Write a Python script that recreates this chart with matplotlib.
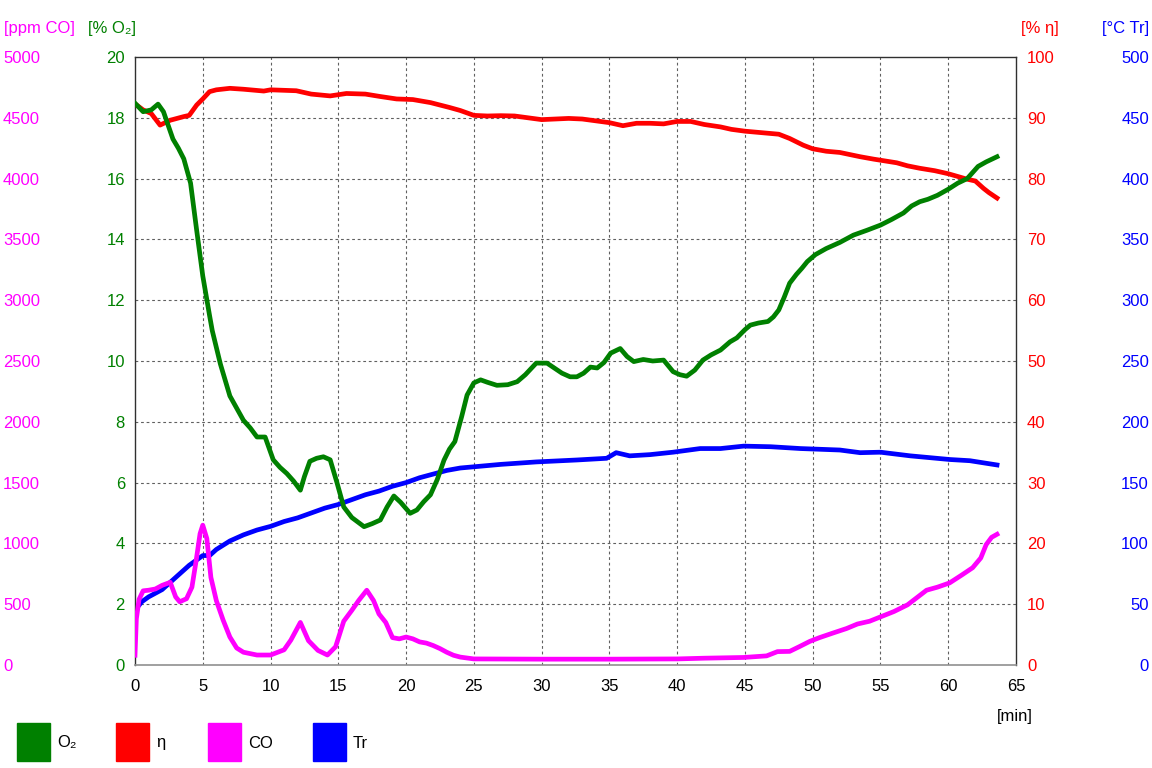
import matplotlib
matplotlib.use("Agg")
import matplotlib.pyplot as plt
from matplotlib.patches import Rectangle

plt.rcParams['font.family'] = ['Liberation Sans', 'DejaVu Sans']
plt.rcParams['font.size'] = 12

# O2 [%]
t_o2 = [0, 0.6, 1.2, 1.7, 2.1, 2.8, 3.2, 3.6, 4.1, 4.55, 5.0, 5.5, 5.7, 6.3, 7.0, 7.5,
        8.0, 8.5, 9.0, 9.6, 10.2, 10.7, 11.2, 11.7, 12.2, 12.5, 12.9, 13.4, 13.9, 14.4,
        14.9, 15.4, 16.0, 16.9, 17.5, 18.1, 18.6, 19.1, 19.6, 20.3, 20.8, 21.3, 21.8,
        22.3, 22.8, 23.2, 23.6, 24.1, 24.5, 25.0, 25.5, 26.0, 26.7, 27.5, 28.2, 28.8,
        29.6, 30.4, 31.0, 31.5, 32.1, 32.6, 33.1, 33.6, 34.1, 34.6, 35.1, 35.8, 36.3,
        36.8, 37.5, 38.2, 39.0, 39.7, 40.2, 40.7, 41.3, 41.9, 42.5, 43.2, 43.9, 44.4,
        45.0, 45.4, 46.0, 46.7, 47.1, 47.5, 47.9, 48.3, 48.8, 49.2, 49.6, 50.2, 51.0,
        52.0, 53.0, 54.0, 55.0, 55.8, 56.7, 57.3, 57.9, 58.5, 59.2, 60.0, 60.7, 61.4,
        61.8, 62.2, 62.8, 63.6]
o2 = [18.48, 18.2, 18.26, 18.45, 18.2, 17.3, 17.0, 16.65, 15.85, 14.3, 12.8, 11.5, 11.0,
      9.9, 8.85, 8.45, 8.05, 7.8, 7.5, 7.5, 6.75, 6.5, 6.3, 6.05, 5.75, 6.2, 6.7, 6.8,
      6.85, 6.75, 6.0, 5.2, 4.85, 4.55, 4.65, 4.77, 5.2, 5.56, 5.35, 4.99, 5.1, 5.37,
      5.6, 6.1, 6.74, 7.1, 7.35, 8.17, 8.88, 9.28, 9.38, 9.3, 9.2, 9.22, 9.32, 9.55,
      9.93, 9.93, 9.75, 9.6, 9.48, 9.48, 9.6, 9.8, 9.77, 9.95, 10.26, 10.41, 10.15,
      9.98, 10.05, 10.0, 10.03, 9.65, 9.55, 9.5, 9.7, 10.03, 10.2, 10.36, 10.63, 10.76,
      11.03, 11.18, 11.25, 11.3, 11.45, 11.68, 12.1, 12.56, 12.85, 13.05, 13.27, 13.5,
      13.7, 13.9, 14.14, 14.3, 14.47, 14.65, 14.87, 15.1, 15.24, 15.32, 15.45, 15.65,
      15.85, 16.0, 16.2, 16.4, 16.55, 16.72]

# efficiency eta [%]
t_eta = [0, 0.6, 1.2, 1.85, 2.6, 3.6, 4.0, 4.55, 5.0, 5.5, 6.0, 7.0, 8.0, 9.5, 10.0,
         11.9, 13.0, 14.4, 15.6, 17.0, 18.1, 19.3, 20.5, 21.8, 23.2, 24.0, 25.0, 26.0,
         27.0, 28.0, 29.0, 30.0, 31.0, 32.0, 33.0, 34.0, 35.0, 36.0, 37.0, 38.0, 39.0,
         40.0, 41.0, 42.0, 43.2, 44.0, 45.0, 46.0, 47.5, 48.3, 49.3, 50.0, 51.0, 52.0,
         53.5, 54.5, 56.2, 57.0, 57.9, 59.0, 60.0, 61.4, 62.0, 62.6, 63.0, 63.6]
eta = [92.3, 91.3, 90.7, 88.8, 89.6, 90.2, 90.4, 92.1, 93.1, 94.3, 94.6, 94.85, 94.7,
       94.4, 94.6, 94.45, 93.9, 93.6, 94.0, 93.9, 93.5, 93.1, 93.0, 92.5, 91.7, 91.2,
       90.4, 90.3, 90.35, 90.3, 90.0, 89.7, 89.8, 89.9, 89.8, 89.5, 89.2, 88.7, 89.1,
       89.1, 89.0, 89.4, 89.4, 88.9, 88.5, 88.1, 87.8, 87.6, 87.3, 86.6, 85.5, 84.9,
       84.5, 84.3, 83.6, 83.2, 82.6, 82.1, 81.7, 81.3, 80.8, 79.9, 79.6, 78.4, 77.7, 76.8]

# CO [ppm]
t_co = [0, 0.1, 0.3, 0.6, 1.0, 1.5, 2.0, 2.6, 3.0, 3.3, 3.8, 4.2, 4.5, 4.8, 5.0, 5.3,
        5.6, 6.0, 6.5, 7.0, 7.5, 8.0, 9.0, 10.0, 11.0, 11.5, 12.2, 12.8, 13.5, 14.2,
        14.8, 15.4, 16.0, 16.5, 17.1, 17.6, 18.0, 18.5, 19.0, 19.5, 20.0, 20.5, 21.0,
        21.5, 22.0, 22.5, 23.0, 23.5, 24.0, 25.0, 30.0, 35.0, 40.0, 42.0, 44.9, 46.6,
        47.4, 48.3, 49.0, 49.8, 50.5, 51.5, 52.5, 53.3, 54.2, 55.1, 56.0, 57.0, 57.7,
        58.4, 59.2, 60.1, 61.0, 61.8, 62.4, 62.8, 63.2, 63.6]
co = [80, 380, 540, 610, 615, 625, 655, 680, 560, 520, 545, 640, 850, 1080, 1150, 1040,
      720, 530, 370, 230, 140, 105, 82, 82, 125, 205, 350, 200, 120, 82, 150, 360, 450,
      530, 615, 530, 420, 350, 225, 215, 230, 215, 190, 180, 160, 135, 105, 80, 65, 50,
      48, 48, 50, 56, 62, 75, 110, 112, 150, 195, 225, 263, 300, 337, 360, 400, 440,
      495, 555, 615, 640, 675, 740, 800, 880, 990, 1050, 1075]

# Tr [degC]
t_tr = [0, 0.5, 1, 2, 3, 4, 5, 5.5, 6, 7, 8, 9, 10, 11, 12, 13, 14, 15, 16, 17, 18, 19,
        20, 21, 22, 23, 24, 25, 27, 29.6, 32.6, 34.8, 35.5, 36.5, 38, 39.7, 41.7, 43.2,
        44.9, 46.9, 49.1, 52.0, 53.5, 55.0, 57.2, 60.1, 61.6, 63.6]
tr = [45, 52, 56, 62, 72, 82, 90, 90, 95, 102, 107, 111, 114, 118, 121, 125, 129, 132,
      136, 140, 143, 147, 150, 154, 157, 160, 162, 163, 165, 167, 168.6, 170, 174.6, 172,
      173, 175, 178, 178, 180, 179.5, 178, 176.8, 174.6, 175, 172, 169, 168, 164.5]

x_ticks = list(range(0, 70, 5))

GREEN, RED, MAG, BLUE = '#008000', '#ff0000', '#ff00ff', '#0000ff'

W, H = 1152, 768
fig = plt.figure(figsize=(W / 100, H / 100), dpi=100)
ax = fig.add_axes([135 / W, 1 - 665 / H, (1016 - 135) / W, (665 - 57) / H])
ax_co = ax.twinx()
ax_eta = ax.twinx()
ax_o2 = ax.twinx()

# host axes carries the Tr scale and the grid
ax.set_xlim(0, 65)
ax.set_ylim(0, 500)
ax_co.set_ylim(0, 5000)
ax_eta.set_ylim(0, 100)
ax_o2.set_ylim(0, 20)

ax.set_xticks(x_ticks)
ax.set_yticks(range(0, 550, 50))
ax_co.set_yticks(range(0, 5500, 500))
ax_eta.set_yticks(range(0, 110, 10))
ax_o2.set_yticks(range(0, 22, 2))

lw = 3.4
ax.plot(t_tr, tr, color=BLUE, lw=lw, solid_joinstyle='round')
ax_co.plot(t_co, co, color=MAG, lw=lw, solid_joinstyle='round')
ax_eta.plot(t_eta, eta, color=RED, lw=lw, solid_joinstyle='round')
ax_o2.plot(t_o2, o2, color=GREEN, lw=lw, solid_joinstyle='round')

# grid
for xv in x_ticks[1:-1]:
    ax.axvline(xv, color='#606060', lw=0.8, ls=(0, (2.5, 2.5)), zorder=0)
for yv in range(50, 500, 50):
    ax.axhline(yv, color='#606060', lw=0.8, ls=(0, (2.5, 2.5)), zorder=0)

# spines
for a in (ax_co, ax_eta, ax_o2):
    for s in a.spines.values():
        s.set_visible(False)
for s in ('left', 'right', 'top'):
    ax.spines[s].set_color('#303030')
    ax.spines[s].set_linewidth(1.0)
ax.spines['bottom'].set_color('#909090')
ax.spines['bottom'].set_linewidth(1.2)

# tick placement
px = 0.72  # points per pixel
ax.tick_params(axis='x', length=0, pad=14 * px, labelsize=12, labelcolor='black')
ax.yaxis.tick_right()
ax.tick_params(axis='y', which='both', length=0, pad=133 * px, labelsize=12, labelcolor=BLUE)
for lab in ax.get_yticklabels():
    lab.set_horizontalalignment('right')

ax_co.yaxis.tick_left()
ax_co.tick_params(axis='y', length=0, pad=132 * px, labelsize=12, labelcolor=MAG)
for lab in ax_co.get_yticklabels():
    lab.set_horizontalalignment('left')

ax_eta.yaxis.tick_right()
ax_eta.tick_params(axis='y', length=0, pad=11 * px, labelsize=12, labelcolor=RED)

ax_o2.yaxis.tick_left()
ax_o2.tick_params(axis='y', length=0, pad=10 * px, labelsize=12, labelcolor=GREEN)

# axis titles
def ftext(x, y, s, color, ha='left'):
    fig.text(x / W, 1 - y / H, s, color=color, ha=ha, va='center', fontsize=12)

ftext(4, 29, '[ppm CO]', MAG)
ftext(88, 29, '[% O₂]', GREEN)
ftext(1021, 29, '[% η]', RED)
ftext(1149, 29, '[°C Tr]', BLUE, ha='right')
ftext(997, 716, '[min]', 'black')

# legend
legend_items = [('O₂', GREEN, 17), ('η', RED, 116), ('CO', MAG, 208), ('Tr', BLUE, 313)]
for name, col, x0 in legend_items:
    fig.patches.append(Rectangle((x0 / W, 1 - 761 / H), 33 / W, 38 / H,
                                 transform=fig.transFigure, color=col))
    ftext(x0 + 40, 743, name, 'black')

fig.savefig('out.png', dpi=100)
